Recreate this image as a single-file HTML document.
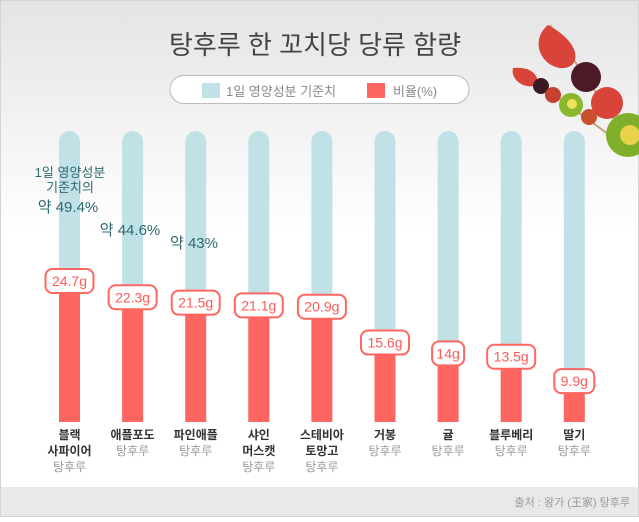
<!DOCTYPE html>
<html><head><meta charset="utf-8"><style>
body{margin:0;width:639px;height:517px;overflow:hidden;font-family:"Liberation Sans","Noto Sans CJK KR",sans-serif;}
svg text{font-family:"Liberation Sans","Noto Sans CJK KR",sans-serif;}
</style></head><body>
<svg id="chart" width="639" height="517" viewBox="0 0 639 517">
<defs><linearGradient id="bg" x1="0" y1="0" x2="0" y2="1"><stop offset="0" stop-color="#e4e4e4"/><stop offset="0.45" stop-color="#ffffff"/></linearGradient></defs>
<rect x="0.5" y="0.5" width="638" height="516" fill="url(#bg)" stroke="#d4d4d4"/>
<rect x="1" y="487" width="637" height="29" fill="#e9e9e9"/>
<text x="630" y="506" text-anchor="end" font-size="11" fill="#999">출처 : 왕가 (王家) 탕후루</text>
<text x="315" y="54" text-anchor="middle" font-size="26" fill="#444">탕후루 한 꼬치당 당류 함량</text>
<g>
<rect x="170" y="75.5" width="299" height="28" rx="14" fill="#fff" stroke="#bbb"/>
<rect x="202" y="83" width="18" height="15" fill="#c0e2e6"/>
<text x="226" y="96" font-size="13" fill="#888">1일 영양성분 기준치</text>
<rect x="367" y="83" width="18" height="15" fill="#ff6661"/>
<text x="393" y="96" font-size="13" fill="#888">비율(%)</text>
</g>
<g>
<line x1="520" y1="70" x2="630" y2="150" stroke="#c9a27a" stroke-width="2"/>
<line x1="550" y1="25" x2="635" y2="150" stroke="#c9a27a" stroke-width="2"/>
<path d="M548,25 C530,40 540,65 560,68 C580,70 585,45 548,25Z" fill="#d9443a"/>
<circle cx="586" cy="77" r="15" fill="#4a1a26"/>
<circle cx="607" cy="103" r="16" fill="#d9443a"/>
<circle cx="628" cy="135" r="22" fill="#7fae2a"/>
<circle cx="630" cy="135" r="10" fill="#e8d24a"/>
<path d="M513,68 C510,80 525,90 537,85 C540,75 530,66 513,68Z" fill="#d9443a"/>
<circle cx="541" cy="86" r="8" fill="#3a1a24"/>
<circle cx="553" cy="95" r="8" fill="#c8402f"/>
<circle cx="571" cy="105" r="12" fill="#8ab82c"/>
<circle cx="572" cy="104" r="5" fill="#f0e060"/>
<circle cx="589" cy="117" r="8" fill="#c8502f"/>
</g>
<g id="bars"></g>
<g>
<text x="70" y="177" text-anchor="middle" font-size="13" fill="#2e6a70">1일 영양성분</text>
<text x="70" y="192" text-anchor="middle" font-size="13" fill="#2e6a70">기준치의</text>
<text x="68" y="212" text-anchor="middle" font-size="15" fill="#2e6a70">약 49.4%</text>
<text x="130" y="235" text-anchor="middle" font-size="15" fill="#2e6a70">약 44.6%</text>
<text x="194" y="248" text-anchor="middle" font-size="15" fill="#2e6a70">약 43%</text>
</g>
</svg>
<script>
const categories=[["블랙","사파이어"],["애플포도"],["파인애플"],["샤인","머스캣"],["스테비아","토망고"],["거봉"],["귤"],["블루베리"],["딸기"]];
const sugarValues=[24.7,22.3,21.5,21.1,20.9,15.6,14,13.5,9.9];
const valueLabels=["24.7g","22.3g","21.5g","21.1g","20.9g","15.6g","14g","13.5g","9.9g"];
const NS="http://www.w3.org/2000/svg";
const g=document.getElementById('bars');
const xPos=i=>69.5+i*63.1;
const yVal=v=>448-6.76*v;
const base=422,top0=131,bw=21;
function mk(t,a){const e=document.createElementNS(NS,t);for(const k in a)e.setAttribute(k,a[k]);g.appendChild(e);return e;}
sugarValues.forEach((v,i)=>{
 const cx=xPos(i);
 const bg=mk('path',{d:`M${cx-bw/2},${base} V${top0+bw/2} A${bw/2},${bw/2} 0 0 1 ${cx+bw/2},${top0+bw/2} V${base} Z`,fill:'#c0e2e6'});
 
 
 const y=yVal(v);
 const r=mk('rect',{x:cx-bw/2,y:y,width:bw,height:base-y,fill:'#ff6661'});
 
 
 const w=valueLabels[i].length*8+8;
 const box=mk('rect',{x:cx-w/2,y:y-12,width:w,height:24,rx:7,fill:'#fff',stroke:'#ff6661','stroke-width':2});
 
 
 const t=mk('text',{x:cx,y:y+5,'text-anchor':'middle','font-size':14,fill:'#ff5a55'});
 t.textContent=valueLabels[i];
 
 
 const lines=categories[i].concat(["탕후루"]);
 lines.forEach((s,j)=>{
  const last=j===lines.length-1;
  const c=mk('text',{x:cx,y:439+j*16,'text-anchor':'middle','font-size':12,fill:last?'#999':'#333','font-weight':last?'normal':'bold'});
  c.textContent=s;
  
  
 });
});
</script>
</body></html>
